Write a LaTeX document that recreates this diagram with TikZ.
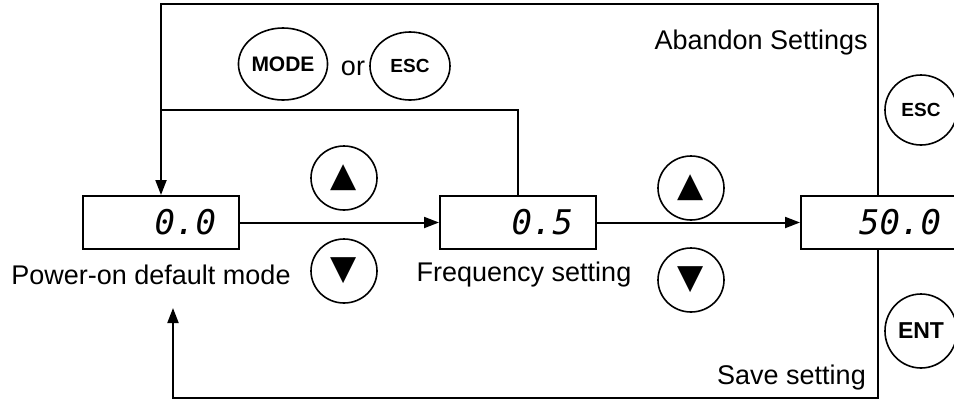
\documentclass[tikz,border=0pt]{standalone}
\usepackage{fontspec}
\setmainfont{Liberation Sans}
\setmonofont{DejaVu Sans Mono}
\newfontfamily\symfont{DejaVu Sans}
\usetikzlibrary{arrows.meta,shapes.geometric}

\tikzset{
  lcd/.style={draw, line width=2pt, minimum width=156pt, minimum height=53pt,
    text width=110pt, align=right, inner sep=0pt,
    font=\fontsize{34}{34}\selectfont\ttfamily\itshape},
  key/.style={draw, ellipse, line width=1.6pt, minimum width=66pt, minimum height=64pt, inner sep=0pt},
  keytxt/.style={key, font=\fontsize{19}{19}\selectfont\bfseries},
  arrowkey/.style={key, font=\fontsize{34}{34}\selectfont\symfont},
  lbl/.style={font=\fontsize{27}{32}\selectfont, inner sep=0pt},
  flow/.style={line width=2pt, -{Triangle[length=15pt,width=11pt]}},
  rail/.style={line width=2pt}
}

\begin{document}
\begin{tikzpicture}[x=1pt,y=-1pt]
\useasboundingbox (0,0) rectangle (954,400);
\node[lcd] (box1) at (161,222.5) {0.0};
\node[lcd] (box2) at (518,222.5) {0.5};
\node[lcd, minimum width=170pt] (box3) at (886,222.5) {50.0};
\node[lbl] (pwrlbl) at (151,275) {Power-on default mode};
\node[lbl] (freqlbl) at (524,275) {Frequency setting};
\node[arrowkey] (up1) at (344,178) {▲};
\node[arrowkey] (dn1) at (344,271) {▼};
\node[arrowkey] (up2) at (691,188) {▲};
\node[arrowkey] (dn2) at (691,280) {▼};
\node[keytxt, font=\fontsize{21}{21}\selectfont\bfseries, minimum width=73pt, minimum height=72pt] (modekey) at (283,64) {MODE};
\node[lbl] (ortxt) at (353,68) {or};
\node[keytxt, minimum width=80pt, minimum height=68pt] (esckey) at (410,66) {ESC};
\node[lbl, anchor=east] (abandon) at (868,43) {Abandon Settings};
\node[keytxt, minimum width=72pt, minimum height=70pt] (esc2) at (921,110) {ESC};
\node[keytxt, font=\fontsize{23}{23}\selectfont\bfseries, minimum width=72pt, minimum height=74pt] (entkey) at (921,331) {ENT};
\node[lbl, anchor=east] (savelbl) at (866,378) {Save setting};
\coordinate (topR) at (878,4);
\coordinate (midL) at (160,110);
\coordinate (botL) at (173,398);
\coordinate (retTip) at (173,308);
\draw[flow] (box1) -- (box2);
\draw[flow] (box2) -- (box3);
\draw[flow] (box3.north -| topR) -- (topR) -| (box1.north);
\draw[rail] (box2.north) |- (midL);
\draw[flow] (box3.south -| topR) |- (botL) -- (retTip);
\end{tikzpicture}
\end{document}
